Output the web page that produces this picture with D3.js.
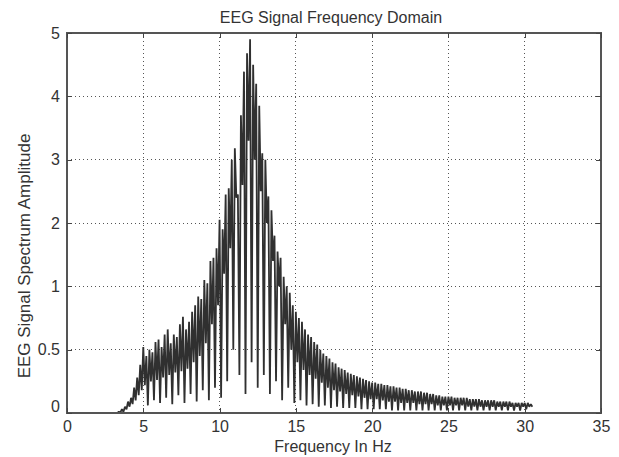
<!DOCTYPE html>
<html><head><meta charset="utf-8">
<script src="https://cdn.jsdelivr.net/npm/d3@7"></script>
<style>body{margin:0;background:#fff}svg{display:block}text{font-family:Arial,"Liberation Sans",sans-serif}</style>
</head><body><div id="chart"></div>
<script>
const title = "EEG Signal Frequency Domain";
const xLabel = "Frequency In Hz";
const yLabel = "EEG Signal Spectrum Amplitude";
const xTicks = [0, 5, 10, 15, 20, 25, 30, 35];
const yTicks = [0, 0.5, 1, 2, 3, 4, 5];
const freqStart = 0, freqStep = 0.1;
// amplitude samples every 0.1 Hz from 0.0 to 30.5 Hz
const amplitude = [
0,0,0,0,0,0,0,0,0,0, 0,0,0,0,0,0,0,0,0,0, 0,0,0,0,0,0,0,0,0,0, 0,0,0,0,
0.01,0.005,0.03,0.01,0.05,0.03,
0.09,0.05,0.12,0.07,0.2,0.1,0.28,0.14,0.38,0.18,
0.52,0.22,0.45,0.06,0.5,0.25,0.48,0.1,0.56,0.26,
0.58,0.08,0.52,0.28,0.62,0.12,0.66,0.3,0.55,0.07,
0.62,0.32,0.6,0.14,0.7,0.33,0.76,0.08,0.66,0.35,
0.72,0.15,0.8,0.4,0.85,0.09,0.92,0.45,0.9,0.18,
1.1,0.55,1.05,0.1,1.4,0.7,1.45,0.2,1.6,0.85,
2.05,0.12,1.9,1.2,2.45,0.25,2.55,1.6,3.0,0.5,
3.18,2.4,2.45,0.3,3.7,2.6,4.39,0.15,4.68,3.3,
4.9,0.4,4.5,3.0,4.2,0.2,3.85,2.5,3.1,0.3,
3.0,2.0,2.42,0.15,2.2,1.4,1.8,0.25,1.55,1.0,
1.45,0.1,1.15,0.7,1.0,0.2,0.95,0.5,0.85,0.08,
0.8,0.4,0.75,0.1,0.72,0.34,0.66,0.06,0.62,0.3,
0.6,0.07,0.56,0.27,0.54,0.05,0.5,0.24,0.47,0.06,
0.45,0.2,0.43,0.04,0.4,0.18,0.39,0.05,0.36,0.17,
0.35,0.04,0.34,0.15,0.32,0.04,0.31,0.14,0.3,0.04,
0.29,0.13,0.28,0.03,0.27,0.12,0.26,0.03,0.25,0.11,
0.24,0.03,0.24,0.11,0.23,0.03,0.23,0.1,0.22,0.03,
0.22,0.09,0.21,0.02,0.21,0.09,0.2,0.02,0.2,0.08,
0.19,0.02,0.19,0.08,0.18,0.02,0.18,0.08,0.17,0.02,
0.17,0.07,0.17,0.02,0.16,0.07,0.16,0.02,0.15,0.07,
0.15,0.02,0.14,0.06,0.14,0.02,0.13,0.06,0.13,0.02,
0.13,0.06,0.13,0.02,0.12,0.06,0.12,0.02,0.12,0.06,
0.12,0.02,0.12,0.05,0.11,0.02,0.11,0.05,0.11,0.02,
0.11,0.05,0.1,0.02,0.1,0.05,0.1,0.02,0.1,0.05,
0.1,0.02,0.09,0.05,0.09,0.02,0.09,0.05,0.09,0.02,
0.09,0.05,0.08,0.02,0.08,0.05,0.08,0.02,0.08,0.05,
0.08,0.03,0.08,0.05,0.07,0.05
];

const W = 619, H = 457;
const m = {left: 67, right: 18, top: 33, bottom: 44};
const iw = W - m.left - m.right, ih = H - m.top - m.bottom;

const svg = d3.select("#chart").append("svg").attr("width", W).attr("height", H);
const g = svg.append("g").attr("transform", `translate(${m.left},${m.top})`);

const x = d3.scaleLinear().domain([0, 35]).range([0, iw]);
const y = d3.scaleLinear().domain(yTicks)
  .range(yTicks.map((d, i) => ih - i * ih / (yTicks.length - 1)));

const tickColor = "#444", gridColor = "#555";
// grid
g.append("g").selectAll("line").data(xTicks.slice(1, -1)).join("line")
  .attr("x1", d => x(d)).attr("x2", d => x(d)).attr("y1", 0).attr("y2", ih)
  .attr("stroke", gridColor).attr("stroke-width", 1).attr("stroke-dasharray", "1,3").attr("shape-rendering", "crispEdges");
g.append("g").selectAll("line").data(yTicks.slice(1, -1)).join("line")
  .attr("x1", 0).attr("x2", iw).attr("y1", d => y(d)).attr("y2", d => y(d))
  .attr("stroke", gridColor).attr("stroke-width", 1).attr("stroke-dasharray", "1,3").attr("shape-rendering", "crispEdges");

// data line
const line = d3.line().x((d, i) => x(freqStart + i * freqStep)).y(d => y(d));
g.append("path").datum(amplitude).attr("d", line)
  .attr("fill", "none").attr("stroke", "#303030").attr("stroke-width", 1.8).attr("stroke-linejoin", "bevel");

// box
g.append("rect").attr("x", 0).attr("y", 0).attr("width", iw).attr("height", ih)
  .attr("fill", "none").attr("stroke", "#555").attr("stroke-width", 1.2).attr("shape-rendering", "crispEdges");

// axes with inward ticks (MATLAB style)
const fmt = d => String(d);
const xb = g.append("g").attr("transform", `translate(0,${ih})`)
  .call(d3.axisBottom(x).tickValues(xTicks).tickFormat(fmt).tickSizeInner(-5).tickSizeOuter(0).tickPadding(8));
const xt = g.append("g").call(d3.axisTop(x).tickValues(xTicks).tickFormat("").tickSizeInner(-5).tickSizeOuter(0));
const yl = g.append("g").call(d3.axisLeft(y).tickValues(yTicks).tickFormat(fmt).tickSizeInner(-5).tickSizeOuter(0).tickPadding(7));
const yr = g.append("g").attr("transform", `translate(${iw},0)`)
  .call(d3.axisRight(y).tickValues(yTicks).tickFormat("").tickSizeInner(-5).tickSizeOuter(0));
[xb, xt, yl, yr].forEach(a => {
  a.select(".domain").remove();
  a.selectAll("line").attr("stroke", tickColor).attr("shape-rendering", "crispEdges");
  a.selectAll("text").attr("fill", "#333").style("font-size", "16px").style("font-family", "Arial, 'Liberation Sans', sans-serif");
});
// MATLAB nudges the bottom y label up
yl.selectAll(".tick").filter(d => d === 0).select("text").attr("dy", "-0.1em");

svg.append("text").attr("x", 331).attr("y", 23).attr("text-anchor", "middle")
  .attr("fill", "#333").style("font-size", "16px").text(title);
svg.append("text").attr("x", 333).attr("y", 452).attr("text-anchor", "middle")
  .attr("fill", "#333").style("font-size", "16px").text(xLabel);
svg.append("text").attr("transform", "translate(30,256) rotate(-90)").attr("text-anchor", "middle")
  .attr("fill", "#333").style("font-size", "17px").text(yLabel);
</script></body></html>
